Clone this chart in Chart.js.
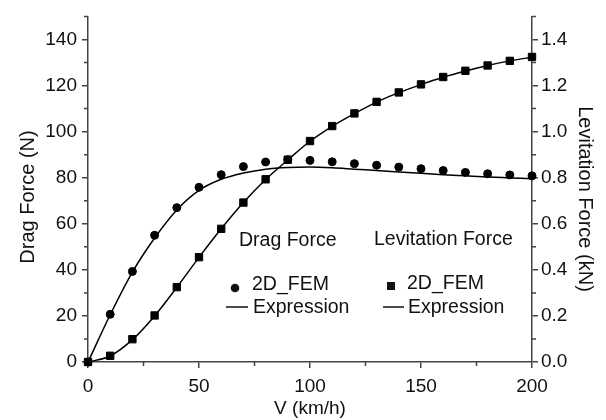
<!DOCTYPE html>
<html>
<head>
<meta charset="utf-8">
<script src="https://cdn.jsdelivr.net/npm/chart.js@4"></script>
<style>
  body { margin: 0; background: #fff; }
  #wrap { width: 606px; height: 420px; }
</style>
</head>
<body>
<div id="wrap"><canvas id="forceChart" width="606" height="420"></canvas></div>
<script>
// speed in km/h
const speeds = [0, 10, 20, 30, 40, 50, 60, 70, 80, 90, 100, 110, 120, 130, 140, 150, 160, 170, 180, 190, 200];
// drag force (N)
const dragFem = [0, 20.7, 39.3, 55.0, 67.0, 75.8, 81.3, 84.8, 86.8, 87.8, 87.5, 86.9, 86.1, 85.4, 84.6, 83.9, 83.1, 82.3, 81.7, 81.2, 80.8];
const dragExpr = [0, 20.5, 39.0, 53.8, 66.0, 74.5, 79.3, 82.0, 83.7, 84.4, 84.6, 84.3, 83.7, 83.1, 82.5, 81.9, 81.3, 80.8, 80.3, 79.9, 79.5];
// levitation force (kN)
const levFem = [0, 0.027, 0.099, 0.202, 0.325, 0.455, 0.578, 0.692, 0.793, 0.878, 0.959, 1.024, 1.079, 1.129, 1.170, 1.205, 1.237, 1.264, 1.287, 1.307, 1.324];
const levExpr = [0, 0.026, 0.097, 0.200, 0.324, 0.454, 0.578, 0.692, 0.792, 0.877, 0.958, 1.023, 1.078, 1.128, 1.169, 1.204, 1.236, 1.263, 1.287, 1.307, 1.323];

const xTicks = [0, 50, 100, 150, 200];
const dragTicks = [0, 20, 40, 60, 80, 100, 120, 140];
const levTicks = [0, 0.2, 0.4, 0.6, 0.8, 1.0, 1.2, 1.4];

const axisColor = '#444';
const ink = '#111';
const family = "'Liberation Sans', Arial, sans-serif";

Chart.defaults.font.family = family;
Chart.defaults.font.size = 19;
Chart.defaults.color = ink;

function pts(ys) {
    return speeds.map((v, i) => ({ x: v, y: ys[i] }));
}

// short unlabeled ticks between the major ones
const minorTicks = {
    id: 'minorTicks',
    afterDraw(chart) {
        const ctx = chart.ctx;
        const { x, yL, yR } = chart.scales;
        ctx.save();
        ctx.strokeStyle = axisColor;
        ctx.lineWidth = 1.5;
        ctx.beginPath();
        [25, 75, 125, 175].forEach(v => {
            const px = x.getPixelForValue(v);
            ctx.moveTo(px, x.top);
            ctx.lineTo(px, x.top + 4);
        });
        [10, 30, 50, 70, 90, 110, 130, 150].forEach(v => {
            const py = yL.getPixelForValue(v);
            ctx.moveTo(yL.right, py);
            ctx.lineTo(yL.right - 4, py);
        });
        [0.1, 0.3, 0.5, 0.7, 0.9, 1.1, 1.3, 1.5].forEach(v => {
            const py = yR.getPixelForValue(v);
            ctx.moveTo(yR.left, py);
            ctx.lineTo(yR.left + 4, py);
        });
        ctx.stroke();
        ctx.restore();
    }
};

// y axis titles sit a little below the middle of the axis
const sideTitles = {
    id: 'sideTitles',
    afterDraw(chart) {
        const ctx = chart.ctx;
        ctx.save();
        ctx.fillStyle = ink;
        ctx.font = '20px ' + family;
        ctx.textAlign = 'center';
        ctx.textBaseline = 'middle';
        ctx.translate(28, 197);
        ctx.rotate(-Math.PI / 2);
        ctx.fillText('Drag Force (N)', 0, 0);
        ctx.restore();

        ctx.save();
        ctx.fillStyle = ink;
        ctx.font = '20px ' + family;
        ctx.textAlign = 'center';
        ctx.textBaseline = 'middle';
        ctx.translate(585, 199);
        ctx.rotate(Math.PI / 2);
        ctx.fillText('Levitation Force (kN)', 0, 0);
        ctx.restore();
    }
};

// two-column legend inside the plot
const groupLegend = {
    id: 'groupLegend',
    afterDraw(chart) {
        const ctx = chart.ctx;
        ctx.save();
        ctx.fillStyle = ink;
        ctx.strokeStyle = ink;
        ctx.font = '19.5px ' + family;
        ctx.textBaseline = 'middle';
        ctx.textAlign = 'left';
        ctx.fillText('Drag Force', 239, 241);
        ctx.fillText('Levitation Force', 374, 240);
        ctx.fillText('2D_FEM', 252, 285);
        ctx.fillText('Expression', 253, 308);
        ctx.fillText('2D_FEM', 407, 284);
        ctx.fillText('Expression', 408, 308);

        ctx.beginPath();
        ctx.arc(235, 288, 4.3, 0, Math.PI * 2);
        ctx.fill();
        ctx.fillRect(387, 282, 8, 8);

        ctx.lineWidth = 1.3;
        ctx.beginPath();
        ctx.moveTo(226, 307); ctx.lineTo(248, 307);
        ctx.moveTo(383, 307); ctx.lineTo(404, 307);
        ctx.stroke();
        ctx.restore();
    }
};

const ctx = document.getElementById('forceChart').getContext('2d');
new Chart(ctx, {
    type: 'line',
    data: {
        datasets: [
            {
                label: 'Drag 2D_FEM',
                data: pts(dragFem),
                yAxisID: 'yL',
                showLine: false,
                pointStyle: 'circle',
                pointRadius: 4,
                pointBorderWidth: 1,
                pointBackgroundColor: '#000',
                pointBorderColor: '#000',
                clip: false
            },
            {
                label: 'Drag Expression',
                data: pts(dragExpr),
                yAxisID: 'yL',
                borderColor: '#000',
                borderWidth: 1.5,
                pointRadius: 0,
                cubicInterpolationMode: 'monotone',
                fill: false,
                clip: false
            },
            {
                label: 'Levitation 2D_FEM',
                data: pts(levFem),
                yAxisID: 'yR',
                showLine: false,
                pointStyle: 'rect',
                pointRadius: 5.2,
                pointBorderWidth: 1,
                pointBackgroundColor: '#000',
                pointBorderColor: '#000',
                clip: false
            },
            {
                label: 'Levitation Expression',
                data: pts(levExpr),
                yAxisID: 'yR',
                borderColor: '#000',
                borderWidth: 1.5,
                pointRadius: 0,
                cubicInterpolationMode: 'monotone',
                fill: false,
                clip: false
            }
        ]
    },
    options: {
        responsive: false,
        animation: false,
        layout: { padding: { top: 8, left: 0, right: 0, bottom: 0 } },
        plugins: {
            legend: { display: false },
            tooltip: { enabled: false }
        },
        scales: {
            x: {
                type: 'linear',
                min: 0,
                max: 200,
                afterFit: s => { s.height = 58; },
                afterBuildTicks: s => { s.ticks = xTicks.map(v => ({ value: v })); },
                border: { color: axisColor, width: 1.5 },
                grid: { drawOnChartArea: false, color: axisColor, tickLength: 6, lineWidth: 1.5 },
                ticks: { padding: 7, color: ink },
                title: { display: true, text: 'V (km/h)', color: ink, padding: { top: 0, bottom: 0 } }
            },
            yL: {
                type: 'linear',
                position: 'left',
                min: 0,
                max: 150,
                afterFit: s => { s.width = 88; },
                afterBuildTicks: s => { s.ticks = dragTicks.map(v => ({ value: v })); },
                border: { color: axisColor, width: 1.5 },
                grid: { drawOnChartArea: false, color: axisColor, tickLength: 6, lineWidth: 1.5 },
                ticks: { padding: 5, color: ink },
                title: { display: false }
            },
            yR: {
                type: 'linear',
                position: 'right',
                min: 0,
                max: 1.5,
                afterFit: s => { s.width = 74; },
                afterBuildTicks: s => { s.ticks = levTicks.map(v => ({ value: v })); },
                border: { color: axisColor, width: 1.5 },
                grid: { drawOnChartArea: false, color: axisColor, tickLength: 6, lineWidth: 1.5 },
                ticks: { padding: 3, color: ink, callback: v => v.toFixed(1) },
                title: { display: false }
            }
        }
    },
    plugins: [minorTicks, sideTitles, groupLegend]
});
</script>
</body>
</html>
